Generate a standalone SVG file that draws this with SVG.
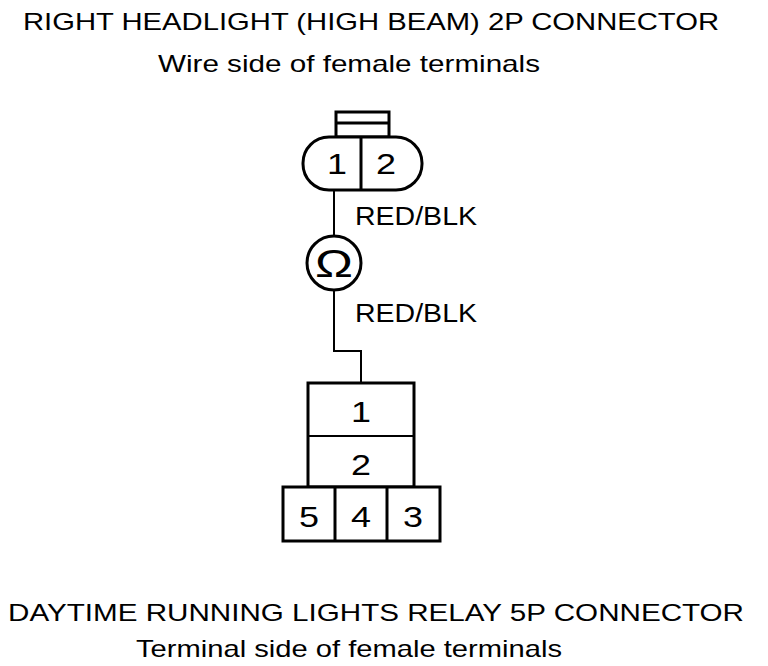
<svg xmlns="http://www.w3.org/2000/svg" width="768" height="666" viewBox="0 0 768 666">
<style>
.t{font-family:"Liberation Sans",Arial,sans-serif;fill:#000}
.title{font-size:24px}
.num{font-size:30px;text-anchor:middle}
.lbl{font-size:25px}
.sh{fill:#fff;stroke:#000;stroke-width:3}
.w{fill:none;stroke:#000;stroke-width:2}
</style>
<rect width="768" height="666" fill="#fff"/>
<g id="title-top">
<text class="t title" x="23" y="30" textLength="696" lengthAdjust="spacingAndGlyphs">RIGHT HEADLIGHT (HIGH BEAM) 2P CONNECTOR</text>
<text class="t title" x="158" y="72" textLength="382" lengthAdjust="spacingAndGlyphs">Wire side of female terminals</text>
</g>
<g id="connectors">
<path class="w" d="M334 190 V236 M334 290 V351 H361 V383"/>
</g>
<g id="headlight-2p">
<rect class="sh" x="336" y="112" width="53" height="25"/>
<line x1="336" y1="123" x2="389" y2="123" stroke="#000" stroke-width="3"/>
<rect class="sh" x="303" y="137" width="119" height="53" rx="26" ry="26"/>
<line x1="361" y1="137" x2="361" y2="190" stroke="#000" stroke-width="3"/>
<text class="t num" x="337" y="174" textLength="20" lengthAdjust="spacingAndGlyphs">1</text>
<text class="t num" x="386" y="174" textLength="20" lengthAdjust="spacingAndGlyphs">2</text>
</g>
<g id="label-upper">
<text class="t lbl" x="355" y="225" textLength="122" lengthAdjust="spacingAndGlyphs">RED/BLK</text>
</g>
<g id="ohmmeter">
<circle cx="334" cy="263" r="27" fill="#fff" stroke="#000" stroke-width="3"/>
<text class="t" x="334" y="277" font-size="38" text-anchor="middle" textLength="38" lengthAdjust="spacingAndGlyphs">Ω</text>
</g>
<g id="label-lower">
<text class="t lbl" x="355" y="322" textLength="122" lengthAdjust="spacingAndGlyphs">RED/BLK</text>
</g>
<g id="relay-5p">
<rect class="sh" x="308" y="383" width="106" height="104"/>
<line x1="308" y1="436" x2="414" y2="436" stroke="#000" stroke-width="2"/>
<rect class="sh" x="283" y="487" width="157" height="54"/>
<line x1="335" y1="487" x2="335" y2="541" stroke="#000" stroke-width="3"/>
<line x1="387" y1="487" x2="387" y2="541" stroke="#000" stroke-width="3"/>
<text class="t num" x="361" y="422" textLength="20" lengthAdjust="spacingAndGlyphs">1</text>
<text class="t num" x="361" y="475" textLength="20" lengthAdjust="spacingAndGlyphs">2</text>
<text class="t num" x="309" y="527" textLength="20" lengthAdjust="spacingAndGlyphs">5</text>
<text class="t num" x="361" y="527" textLength="20" lengthAdjust="spacingAndGlyphs">4</text>
<text class="t num" x="413" y="527" textLength="20" lengthAdjust="spacingAndGlyphs">3</text>
</g>
<g id="title-bottom">
<text class="t title" x="8" y="621" textLength="736" lengthAdjust="spacingAndGlyphs">DAYTIME RUNNING LIGHTS RELAY 5P CONNECTOR</text>
<text class="t title" x="136" y="657" textLength="426" lengthAdjust="spacingAndGlyphs">Terminal side of female terminals</text>
</g>
</svg>
